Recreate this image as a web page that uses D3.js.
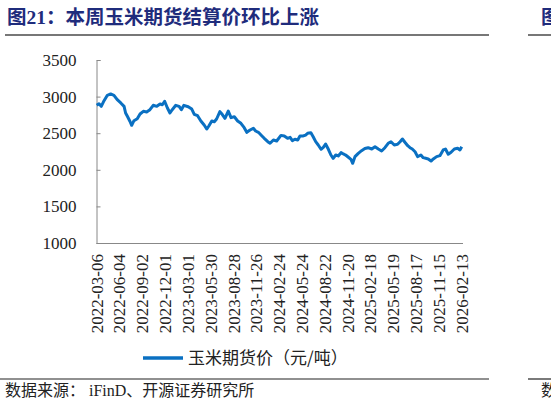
<!DOCTYPE html>
<html>
<head>
<meta charset="utf-8">
<script src="https://cdn.jsdelivr.net/npm/d3@7"></script>
<style>
  body { margin: 0; background: #fff; }
  svg { display: block; }
</style>
</head>
<body>
<div class="chart"></div>
<script>
var W = 551, H = 405;

// x tick labels (every 90 days)
var tickLabels = ["2022-03-06","2022-06-04","2022-09-02","2022-12-01","2023-03-01","2023-05-30",
  "2023-08-28","2023-11-26","2024-02-24","2024-05-24","2024-08-22","2024-11-20","2025-02-18",
  "2025-05-19","2025-08-17","2025-11-15","2026-02-13"];
var yTicks = [1000, 1500, 2000, 2500, 3000, 3500];

// corn futures settlement price (yuan/ton)
var dates = ["2022-03-06","2022-03-15","2022-03-24","2022-04-04","2022-04-17","2022-04-30","2022-05-13",
  "2022-05-26","2022-06-09","2022-06-22","2022-06-28","2022-07-05","2022-07-15","2022-07-22","2022-07-31",
  "2022-08-13","2022-08-24","2022-09-06","2022-09-19","2022-10-02","2022-10-15","2022-10-29","2022-11-11",
  "2022-11-20","2022-11-29","2022-12-10","2022-12-20","2022-12-29","2023-01-12","2023-01-25","2023-02-03",
  "2023-02-13","2023-03-02","2023-03-16","2023-03-26","2023-04-08","2023-04-21","2023-05-04","2023-05-14",
  "2023-05-23","2023-06-03","2023-06-13","2023-06-22","2023-07-05","2023-07-14","2023-07-25","2023-08-07",
  "2023-08-18","2023-08-31","2023-09-13","2023-09-26","2023-10-09","2023-10-19","2023-11-01","2023-11-14",
  "2023-11-23","2023-12-04","2023-12-17","2023-12-27","2024-01-10","2024-01-19","2024-02-01","2024-02-14",
  "2024-03-02","2024-03-15","2024-03-28","2024-04-07","2024-04-16","2024-04-26","2024-05-07","2024-05-16",
  "2024-05-29","2024-06-07","2024-06-15","2024-06-28","2024-07-07","2024-07-17","2024-07-27","2024-08-07",
  "2024-08-16","2024-08-25","2024-09-05","2024-09-15","2024-09-24","2024-10-04","2024-10-14","2024-10-25",
  "2024-11-03","2024-11-12","2024-11-23","2024-12-03","2024-12-10","2024-12-19","2025-01-01","2025-01-14",
  "2025-01-27","2025-02-09","2025-02-23","2025-03-08","2025-03-21","2025-04-03","2025-04-16","2025-04-29",
  "2025-05-10","2025-05-23","2025-06-05","2025-06-15","2025-06-24","2025-07-04","2025-07-15","2025-07-24",
  "2025-08-02","2025-08-13","2025-08-23","2025-09-05","2025-09-14","2025-09-24","2025-10-04","2025-10-15",
  "2025-10-24","2025-11-06","2025-11-19","2025-12-02","2025-12-11","2025-12-22","2026-01-02","2026-01-15",
  "2026-01-28","2026-02-06","2026-02-13"];
var prices = [2881,2903,2867,2944,3018,3036,3018,
  2958,2913,2867,2776,2731,2663,2608,2671,
  2698,2762,2799,2790,2821,2881,2867,2899,
  2889,2936,2844,2776,2821,2881,2867,2821,
  2881,2862,2830,2758,2739,2667,2612,2557,
  2602,2667,2657,2694,2794,2758,2703,2803,
  2712,2725,2667,2635,2575,2512,2544,2567,
  2530,2512,2466,2430,2384,2362,2407,2393,
  2470,2462,2430,2444,2398,2417,2407,2462,
  2462,2475,2499,2507,2452,2384,2339,2280,
  2307,2352,2280,2202,2157,2202,2189,2234,
  2216,2202,2171,2143,2089,2180,2225,2261,
  2290,2302,2284,2316,2284,2257,2302,2362,
  2384,2339,2348,2384,2421,2376,2329,2302,
  2284,2247,2180,2202,2166,2157,2148,2120,
  2148,2180,2193,2271,2284,2212,2239,2284,
  2294,2271,2316];

var parse = d3.timeParse("%Y-%m-%d");
var data = dates.map(function(d, i) { return {date: parse(d), value: prices[i]}; });

var x = d3.scaleTime()
    .domain([parse(tickLabels[0]), parse(tickLabels[tickLabels.length - 1])])
    .range([96.7, 461.7]);
var y = d3.scaleLinear().domain([1000, 3500]).range([243, 60]);

var svg = d3.select(".chart").append("svg")
    .attr("width", W)
    .attr("height", H);

// title
var title = svg.append("text")
    .attr("x", 7)
    .attr("y", 24)
    .attr("fill", "#1f2c7c")
    .attr("font-weight", "bold")
    .attr("font-size", "19.5px")
    .attr("font-family", "'Noto Sans CJK SC', sans-serif");
title.append("tspan").text("图");
title.append("tspan").attr("font-family", "'Liberation Serif', serif").text("21");
title.append("tspan").text("：本周玉米期货结算价环比上涨");

// fragment of next chart's title on the right edge
svg.append("text")
    .attr("x", 541).attr("y", 24)
    .attr("fill", "#1f2c7c")
    .attr("font-weight", "bold")
    .attr("font-size", "19.5px")
    .attr("font-family", "'Noto Sans CJK SC', sans-serif")
    .text("图");

// rules
svg.append("line").attr("x1", 5).attr("x2", 489).attr("y1", 35).attr("y2", 35)
    .attr("stroke", "#777").attr("stroke-width", 2);
svg.append("line").attr("x1", 528).attr("x2", 551).attr("y1", 35).attr("y2", 35)
    .attr("stroke", "#777").attr("stroke-width", 2);
svg.append("line").attr("x1", 0).attr("x2", 489).attr("y1", 379).attr("y2", 379)
    .attr("stroke", "#222").attr("stroke-width", 1.2);
svg.append("line").attr("x1", 528).attr("x2", 551).attr("y1", 379).attr("y2", 379)
    .attr("stroke", "#222").attr("stroke-width", 1.2);

// y axis
var yAxis = svg.append("g")
    .attr("transform", "translate(96.5,0)")
    .call(d3.axisLeft(y).tickValues(yTicks).tickSize(-4).tickPadding(20).tickFormat(d3.format("d")));
yAxis.select(".domain").attr("stroke", "#888");
yAxis.selectAll(".tick line").attr("stroke", "#888");
yAxis.selectAll("text")
    .attr("font-family", "'Liberation Serif', serif")
    .attr("font-size", "17px")
    .attr("fill", "#222");

// x axis
var xAxis = svg.append("g")
    .attr("transform", "translate(0,243.5)")
    .call(d3.axisBottom(x).tickValues(tickLabels.map(parse)).tickSize(0).tickFormat(""));
xAxis.select(".domain").attr("stroke", "#888").attr("d", "M96.5,0H463");

svg.append("g").selectAll("text")
    .data(tickLabels)
    .join("text")
    .attr("transform", function(d) { return "translate(" + x(parse(d)) + ",254) rotate(-90)"; })
    .attr("text-anchor", "end")
    .attr("dy", "0.35em")
    .attr("font-family", "'Liberation Serif', serif")
    .attr("font-size", "17px")
    .attr("fill", "#222")
    .text(function(d) { return d; });

// line
var line = d3.line()
    .x(function(d) { return x(d.date); })
    .y(function(d) { return y(d.value); });

svg.append("path")
    .datum(data)
    .attr("fill", "none")
    .attr("stroke", "#0a70c2")
    .attr("stroke-width", 3)
    .attr("stroke-linejoin", "round")
    .attr("d", line);

// legend
svg.append("line").attr("x1", 143).attr("x2", 183).attr("y1", 358).attr("y2", 358)
    .attr("stroke", "#0a70c2").attr("stroke-width", 3.5);
svg.append("text")
    .attr("x", 188).attr("y", 364)
    .attr("font-family", "'Noto Sans CJK SC', sans-serif")
    .attr("font-size", "17px")
    .attr("fill", "#222")
    .text("玉米期货价（元/吨）");

// source
var src = svg.append("text")
    .attr("x", 5).attr("y", 396)
    .attr("font-family", "'Noto Sans CJK SC', sans-serif")
    .attr("font-size", "16px")
    .attr("fill", "#222");
src.append("tspan").text("数据来源：");
src.append("tspan").attr("font-family", "'Liberation Serif', serif").text(" iFinD");
src.append("tspan").text("、开源证券研究所");

svg.append("text")
    .attr("x", 541).attr("y", 396)
    .attr("font-family", "'Noto Sans CJK SC', sans-serif")
    .attr("font-size", "16px")
    .attr("fill", "#222")
    .text("数");
</script>
</body>
</html>
